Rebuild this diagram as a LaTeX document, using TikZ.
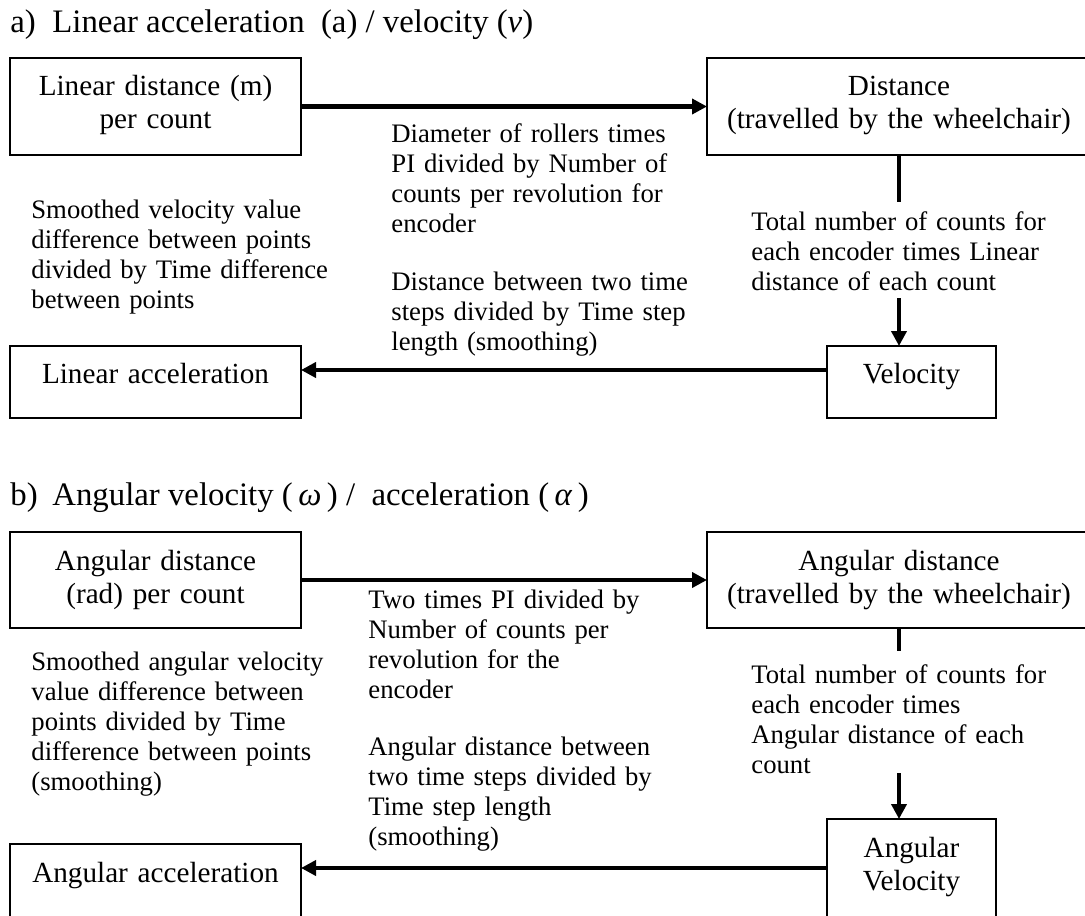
\documentclass[tikz,border=0pt]{standalone}
\usepackage{fontspec}
\setmainfont{Liberation Serif}
\usetikzlibrary{arrows.meta}
\begin{document}
\begin{tikzpicture}[x=0.5pt,y=-0.5pt,
  boxnode/.style={draw, line width=0.8pt, inner sep=0pt, outer sep=0pt, anchor=north west},
  boxtext/.style={anchor=base, align=center, inner sep=0pt, font=\fontsize{14.6pt}{16.5pt}\selectfont},
  lbl/.style={anchor=base west, align=left, inner sep=0pt, text width=175pt, font=\fontsize{13.35pt}{15pt}\selectfont},
  ttl/.style={anchor=base west, inner sep=0pt, font=\fontsize{16.4pt}{19pt}\selectfont},
  arr/.style={line width=2pt, -{Triangle[length=7.5pt,width=7.5pt]}},
  link/.style={line width=2pt}
]
\useasboundingbox (0,0) rectangle (1085,915);

% ---------- a) ----------
\node[ttl] (ta) at (10,33) {\makebox[21pt][l]{a)}Linear acceleration\ \ (a) / velocity (\textit{v})};

\node[boxnode, minimum width=145.5pt, minimum height=48.5pt] (linD) at (10,58) {};
\node[boxnode, minimum width=192pt, minimum height=48.5pt] (dist) at (707,58) {};
\node[boxnode, minimum width=84.5pt, minimum height=36pt] (vel) at (827,346) {};
\node[boxnode, minimum width=145.5pt, minimum height=36pt] (linA) at (10,346) {};

\node[boxtext, text width=145.5pt] (linDt) at (155.5,96) {Linear distance (m)\\per count};
\node[boxtext, text width=192pt] (distt) at (899,96) {Distance\\(travelled by the wheelchair)};
\node[boxtext, text width=84.5pt] (velt) at (911.5,383) {Velocity};
\node[boxtext, text width=145.5pt] (linAt) at (155.5,383) {Linear acceleration};

\node[lbl] (lDia) at (391,142) {Diameter of rollers times\\PI divided by Number of\\counts per revolution for\\encoder};
\node[lbl] (lDist) at (391,290) {Distance between two time\\steps divided by Time step\\length (smoothing)};
\node[lbl] (lSm) at (31,218) {Smoothed velocity value\\difference between points\\divided by Time difference\\between points};
\node[lbl] (lTot) at (751,230) {Total\hspace{4.4pt}number\hspace{4.4pt}of\hspace{4.4pt}counts\hspace{4.4pt}for\\each encoder times Linear\\distance of each count};

\coordinate (c1) at (899,202);
\coordinate (c2) at (899,298);
\coordinate (c3) at (0,370);
\draw[arr] (linD.east) -- (dist.west);
\draw[link] (dist.south) -- (c1);
\draw[arr] (c2) -- (c2 |- vel.north);
\draw[arr] (vel.west |- c3) -- (linA.east |- c3);

% ---------- b) ----------
\node[ttl] (tb) at (10,505) {\makebox[21pt][l]{b)}Angular velocity (\,\textit{ω}\,) /\ \ acceleration (\,\textit{α}\,)};

\node[boxnode, minimum width=145.5pt, minimum height=48pt] (angD) at (10,532) {};
\node[boxnode, minimum width=192pt, minimum height=48pt] (angT) at (707,532) {};
\node[boxnode, minimum width=84.5pt, minimum height=60pt] (angV) at (827,819) {};
\node[boxnode, minimum width=145.5pt, minimum height=50pt] (angA) at (10,844) {};

\node[boxtext, text width=145.5pt] (angDt) at (155.5,570) {Angular distance\\(rad) per count};
\node[boxtext, text width=192pt] (angTt) at (899,570) {Angular distance\\(travelled by the wheelchair)};
\node[boxtext, text width=84.5pt] (angVt) at (911.5,857) {Angular\\Velocity};
\node[boxtext, text width=145.5pt] (angAt) at (155.5,882) {Angular acceleration};

\node[lbl] (lTwo) at (368,608) {Two times PI divided by\\Number of counts per\\revolution for the\\encoder};
\node[lbl] (lAng) at (368,755) {Angular distance between\\two time steps divided by\\Time step length\\(smoothing)};
\node[lbl] (lSmA) at (31,670) {Smoothed angular velocity\\value difference between\\points divided by Time\\difference between points\\(smoothing)};
\node[lbl] (lTotA) at (751,683) {Total number of counts for\\each encoder times\\Angular distance of each\\count};

\coordinate (c4) at (899,651);
\coordinate (c5) at (899,773);
\coordinate (c6) at (0,868);
\draw[arr] (angD.east) -- (angT.west);
\draw[link] (angT.south) -- (c4);
\draw[arr] (c5) -- (c5 |- angV.north);
\draw[arr] (angV.west |- c6) -- (angA.east |- c6);
\end{tikzpicture}
\end{document}
